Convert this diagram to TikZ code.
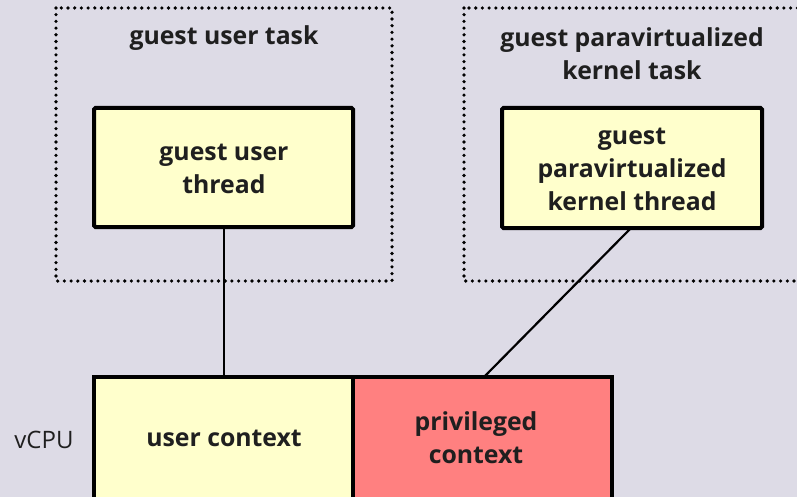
\documentclass[tikz,border=0pt]{standalone}
\usepackage{fontspec}
\setmainfont{Open Sans}
\begin{document}
\begin{tikzpicture}[x=1pt,y=-1pt,
  every node/.style={font=\fontsize{24.8}{33}\selectfont\bfseries, align=center, text=black!88},
  taskbox/.style={draw=black, line width=3.6pt, line cap=round, dash pattern=on 0pt off 6.7pt},
  threadbox/.style={draw=black, line width=4pt, fill=yellowfill, rounded corners=1.5pt},
  link/.style={draw=black, line width=2.2pt}]
\definecolor{bgcol}{HTML}{DDDBE6}
\definecolor{yellowfill}{HTML}{FFFFCC}
\definecolor{redfill}{HTML}{FF8080}
\useasboundingbox (0,0) rectangle (797,497);
\fill[bgcol] (0,0) rectangle (797,497);
\begin{scope}
\clip (0,0) rectangle (797,497);
% dotted task outlines
\draw[taskbox] (56,8) rectangle (392,281);
\draw[taskbox] (464,8) rectangle (830,281);
% vCPU contexts
\draw[threadbox, rounded corners=0pt] (94,377) rectangle (353,520);
\draw[draw=black, line width=4pt, fill=redfill] (353,377) rectangle (612,520);
\end{scope}
\coordinate (uctop) at (224,377);
\coordinate (pctop) at (484,377);
% threads
\draw[threadbox] (94,108) rectangle (353,227);
\draw[threadbox] (502,108) rectangle (762,228);
\coordinate (utbot) at (224,227);
\coordinate (ktbot) at (631,228);
\draw[link] (utbot) -- (uctop);
\draw[link] (ktbot) -- (pctop);
% labels
\node (ut) at (224,38) {guest user task};
\node (kt) at (632,54) {guest paravirtualized\\kernel task};
\node (uth) at (224,169) {guest user\\thread};
\node (kth) at (632,169) {guest\\paravirtualized\\kernel thread};
\node (uc) at (224,438) {user context};
\node (pc) at (476,438) {privileged\\context};
\node[font=\fontsize{24}{30}\selectfont] (vcpu) at (44,440) {vCPU};
\end{tikzpicture}
\end{document}
